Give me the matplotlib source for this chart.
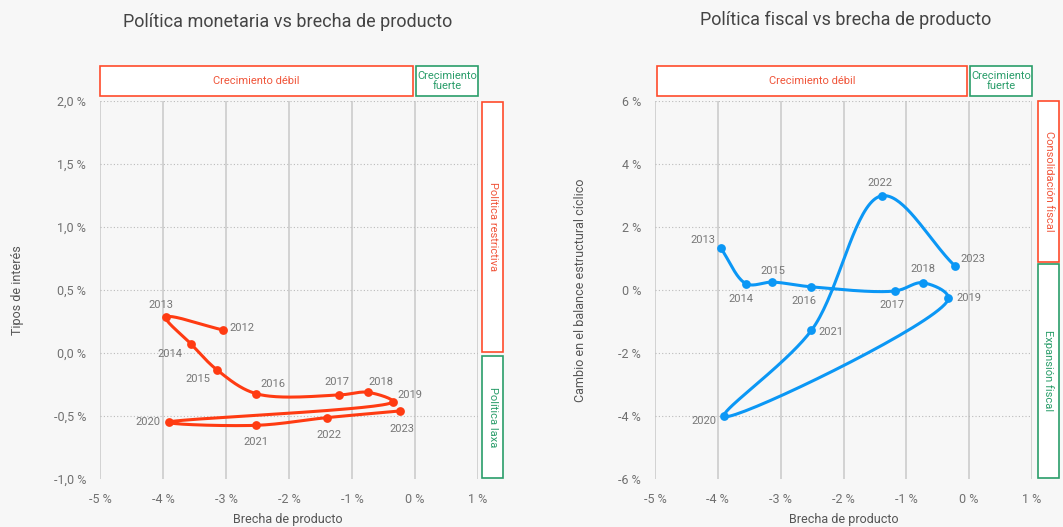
import numpy as np
import matplotlib
matplotlib.use("Agg")
import matplotlib.pyplot as plt
from matplotlib.patches import Rectangle

# === DATA ===
years_mon = ["2012", "2013", "2014", "2015", "2016", "2017", "2018", "2019", "2020", "2021", "2022", "2023"]
gap_mon = [-3.05, -3.95, -3.56, -3.14, -2.52, -1.20, -0.75, -0.35, -3.91, -2.52, -1.40, -0.24]
rate_mon = [0.183, 0.283, 0.074, -0.135, -0.323, -0.333, -0.312, -0.386, -0.550, -0.574, -0.513, -0.460]

years_fis = ["2013", "2014", "2015", "2016", "2017", "2018", "2019", "2020", "2021", "2022", "2023"]
gap_fis = [-3.95, -3.55, -3.13, -2.51, -1.18, -0.74, -0.33, -3.90, -2.51, -1.39, -0.23]
bal_fis = [1.32, 0.20, 0.25, 0.10, -0.03, 0.23, -0.26, -4.01, -1.28, 2.99, 0.77]

x_ticks = [-5, -4, -3, -2, -1, 0, 1]
x_labels = ["-5 %", "-4 %", "-3 %", "-2 %", "-1 %", "0 %", "1 %"]
y_ticks_mon = [-1.0, -0.5, 0.0, 0.5, 1.0, 1.5, 2.0]
y_labels_mon = ["-1,0 %", "-0,5 %", "0,0 %", "0,5 %", "1,0 %", "1,5 %", "2,0 %"]
y_ticks_fis = [-6, -4, -2, 0, 2, 4, 6]
y_labels_fis = ["-6 %", "-4 %", "-2 %", "0 %", "2 %", "4 %", "6 %"]

# label offsets in pixels (dx, dy)
off_mon = [(19, 2), (-5, 12), (-21, -10), (-19, -9), (17, 10), (-2, 13), (13, 10),
           (17, 7), (-21, 0), (0, -17), (2, -17), (2, -18)]
off_fis = [(-18, 8), (-5, -15), (0, 11), (-8, -14), (-3, -14), (0, 14), (21, 0),
           (-20, -5), (19, -2), (-2, 13), (18, 7)]

BG = "#f7f7f7"
RED = "#ff4b2b"
RED_TXT = "#f0553a"
GREEN = "#2a9d6a"
W, H = 1063, 527

plt.rcParams["font.family"] = ["Roboto", "DejaVu Sans"]


def catmull_rom(xs, ys, xlim, ylim, n=40, alpha=0.5):
    # centripetal catmull-rom in normalised axes space
    u = (np.array(xs) - xlim[0]) / (xlim[1] - xlim[0])
    v = (np.array(ys) - ylim[0]) / (ylim[1] - ylim[0])
    P = np.column_stack([u, v])
    P = np.vstack([2 * P[0] - P[1], P, 2 * P[-1] - P[-2]])
    out = []
    for i in range(1, len(P) - 2):
        p0, p1, p2, p3 = P[i - 1], P[i], P[i + 1], P[i + 2]
        t0 = 0.0
        t1 = t0 + max(np.linalg.norm(p1 - p0), 1e-6) ** alpha
        t2 = t1 + max(np.linalg.norm(p2 - p1), 1e-6) ** alpha
        t3 = t2 + max(np.linalg.norm(p3 - p2), 1e-6) ** alpha
        for t in np.linspace(t1, t2, n):
            a1 = (t1 - t) / (t1 - t0) * p0 + (t - t0) / (t1 - t0) * p1
            a2 = (t2 - t) / (t2 - t1) * p1 + (t - t1) / (t2 - t1) * p2
            a3 = (t3 - t) / (t3 - t2) * p2 + (t - t2) / (t3 - t2) * p3
            b1 = (t2 - t) / (t2 - t0) * a1 + (t - t0) / (t2 - t0) * a2
            b2 = (t3 - t) / (t3 - t1) * a2 + (t - t1) / (t3 - t1) * a3
            c = (t2 - t) / (t2 - t1) * b1 + (t - t1) / (t2 - t1) * b2
            out.append(c)
    out = np.array(out)
    return (out[:, 0] * (xlim[1] - xlim[0]) + xlim[0],
            out[:, 1] * (ylim[1] - ylim[0]) + ylim[0])


def fbox(fig, x0, y0, x1, y1, color):
    fig.add_artist(Rectangle((x0 / W, 1 - y1 / H), (x1 - x0) / W, (y1 - y0) / H,
                             transform=fig.transFigure, facecolor="white",
                             edgecolor=color, linewidth=1.2))


def ftext(fig, x, y, s, color, rot=0, size=8):
    fig.text(x / W, 1 - y / H, s, color=color, rotation=rot, fontsize=size,
             ha="center", va="center", linespacing=0.95)


def style_axes(ax, xlim, ylim, yticks, ylabels):
    ax.set_facecolor(BG)
    ax.set_xlim(xlim)
    ax.set_ylim(ylim)
    for s in ax.spines.values():
        s.set_visible(False)
    ax.set_xticks(x_ticks)
    ax.set_xticklabels(x_labels)
    ax.set_yticks(yticks)
    ax.set_yticklabels(ylabels)
    ax.tick_params(length=0, colors="#707070", labelsize=9, pad=10)
    for xt in x_ticks:
        ax.axvline(xt, color="#cccccc", linewidth=1.2, zorder=0)
    for yt in yticks[1:]:
        ax.axhline(yt, color="#bbbbbb", linewidth=0.8, linestyle=(0, (1, 2)), zorder=0)


def draw_series(ax, xs, ys, years, offs, color, xlim, ylim):
    sx, sy = catmull_rom(xs, ys, xlim, ylim)
    ax.plot(sx, sy, color=color, linewidth=2.2, zorder=3, solid_capstyle="round")
    ax.scatter(xs, ys, s=40, color=color, zorder=4, linewidths=0)
    for x, y, yr, (dx, dy) in zip(xs, ys, years, offs):
        ax.annotate(yr, (x, y), xytext=(dx, dy), textcoords="offset pixels",
                    ha="center", va="center", fontsize=8, color="#777777")


fig = plt.figure(figsize=(W / 100, H / 100), dpi=100, facecolor=BG)

# === LEFT: monetary policy ===
xlim = (-5, 1)
ylim_m = (-1.0, 2.0)
ax1 = fig.add_axes([100 / W, 1 - 479 / H, 378 / W, 378 / H])
style_axes(ax1, xlim, ylim_m, y_ticks_mon, y_labels_mon)
draw_series(ax1, gap_mon, rate_mon, years_mon, off_mon, "#ff3b12", xlim, ylim_m)
fig.text(288 / W, 1 - 22 / H, "Política monetaria vs brecha de producto", fontsize=13,
         color="#444444", ha="center", va="center")
fig.text(288 / W, 1 - 520 / H, "Brecha de producto", fontsize=9, color="#555555",
         ha="center", va="center")
fig.text(18 / W, 1 - 290 / H, "Tipos de interés", fontsize=9, color="#555555",
         ha="center", va="center", rotation=90)

fbox(fig, 100, 66, 413, 96, RED)
ftext(fig, 256, 81, "Crecimiento débil", RED_TXT)
fbox(fig, 416, 66, 478, 96, GREEN)
ftext(fig, 447, 81, "Crecimiento\nfuerte", GREEN)
fbox(fig, 482, 102, 503, 352, RED)
ftext(fig, 492.5, 227, "Política restrictiva", RED_TXT, rot=270)
fbox(fig, 482, 356, 503, 478, GREEN)
ftext(fig, 492.5, 417, "Política laxa", GREEN, rot=270)

# === RIGHT: fiscal policy ===
ylim_f = (-6, 6)
ax2 = fig.add_axes([655 / W, 1 - 479 / H, 377 / W, 378 / H])
style_axes(ax2, xlim, ylim_f, y_ticks_fis, y_labels_fis)
draw_series(ax2, gap_fis, bal_fis, years_fis, off_fis, "#0b97f5", xlim, ylim_f)
fig.text(846 / W, 1 - 20 / H, "Política fiscal vs brecha de producto", fontsize=13,
         color="#444444", ha="center", va="center")
fig.text(844 / W, 1 - 520 / H, "Brecha de producto", fontsize=9, color="#555555",
         ha="center", va="center")
fig.text(580 / W, 1 - 290 / H, "Cambio en el balance estructural cíclico", fontsize=9,
         color="#555555", ha="center", va="center", rotation=90)

fbox(fig, 657, 66, 967, 96, RED)
ftext(fig, 812, 81, "Crecimiento débil", RED_TXT)
fbox(fig, 970, 66, 1032, 96, GREEN)
ftext(fig, 1001, 81, "Crecimiento\nfuerte", GREEN)
fbox(fig, 1038, 101, 1059, 262, RED)
ftext(fig, 1048.5, 181, "Consolidación fiscal", RED_TXT, rot=270)
fbox(fig, 1038, 264, 1059, 478, GREEN)
ftext(fig, 1048.5, 371, "Expansión fiscal", GREEN, rot=270)

plt.savefig("out.png", dpi=100, facecolor=BG)
